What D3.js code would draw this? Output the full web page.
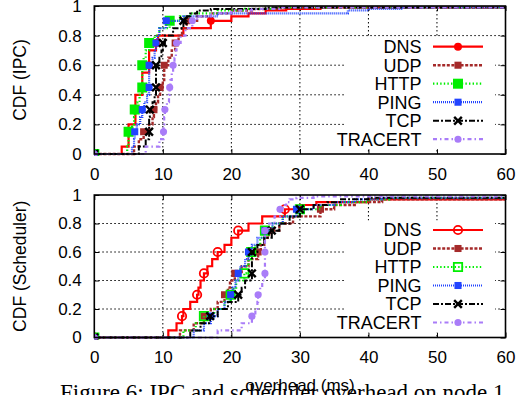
<!DOCTYPE html>
<html>
<head>
<meta charset="utf-8">
<script src="https://cdnjs.cloudflare.com/ajax/libs/d3/7.8.5/d3.min.js"></script>
<style>
  body { margin: 0; background: #fff; }
  text { font-family: "Liberation Sans", Arial, Helvetica, sans-serif; }
</style>
</head>
<body>
<div id="chart"></div>
<script>
// cdf level reached at each sample value (shared by all series)
var cdfLevels = [0, 0.05, 0.10, 0.15, 0.20, 0.25, 0.30, 0.35, 0.40, 0.45, 0.50, 0.55, 0.60,
  0.65, 0.70, 0.75, 0.80, 0.85, 0.90, 0.93, 0.95, 0.97, 0.98, 0.99, 1.0];
var markerLevels = [0, 0.15, 0.30, 0.45, 0.60, 0.75, 0.90];

var seriesNames = ["DNS", "UDP", "HTTP", "PING", "TCP", "TRACERT"];

// IPC overhead (ms)
var ipcDns     = [0, 4, 5, 5, 5, 6, 6, 6, 6, 7, 7, 7, 8, 8, 8, 9, 9.3, 13, 17, 20, 22.5, 25, 28, 33, 70];
var ipcUdp     = [0, 5.8, 6.5, 7.2, 8, 8.5, 8.7, 9, 9.3, 9.6, 10, 10.2, 10.2, 10.8, 11.3, 11.8, 12.3, 12.8, 13.5, 15, 17, 20, 23, 27, 70];
var ipcHttp    = [0, 4.8, 5, 5, 5.5, 5.8, 5.9, 6.3, 6.6, 7, 7, 7, 7, 7.2, 7.5, 8, 8.8, 9.5, 11, 12.5, 14, 18, 22, 26, 70];
var ipcPing    = [0, 5.5, 5.8, 5.9, 6.2, 6.7, 7, 7.3, 7.7, 8, 8, 8, 8, 8.5, 8.8, 9, 9.2, 9.5, 10.5, 13, 18, 37, 40, 45, 70];
var ipcTcp     = [0, 6.5, 7.5, 8, 8, 8, 8.1, 8.5, 8.8, 9, 9, 9, 9, 9.5, 9.8, 10, 10.3, 11.5, 13, 13.5, 14, 15, 17, 25, 70];
var ipcTracert = [0, 7.5, 9.5, 10.1, 10.1, 10.2, 10.3, 10.6, 10.9, 11, 11.1, 11.3, 11.5, 11.7, 11.9, 12, 12.6, 13.3, 14.3, 15, 17, 20, 23, 27, 70];

// scheduler overhead (ms)
var schedDns     = [0, 10.8, 12, 12.8, 13, 14, 15, 15.2, 15.5, 16, 16.5, 17.2, 18, 19, 20, 21, 22.5, 24.5, 27.8, 30, 32.4, 40, 66, 67, 70];
var schedUdp     = [0, 12.5, 14.5, 16, 17, 18, 19, 19.5, 19.8, 20.5, 21.5, 22.5, 23.9, 24.3, 24.8, 25.5, 27, 29, 33, 35, 38, 42, 65, 67, 70];
var schedHttp    = [0, 13, 14.8, 16, 17.5, 19, 19.9, 20.3, 20.7, 21.9, 22.2, 22.5, 22.9, 23.5, 24.2, 24.9, 26, 27.5, 30, 33, 36, 40, 43, 65, 70];
var schedPing    = [0, 14.5, 16, 17, 18, 19, 19.9, 20.2, 20.6, 21, 21.3, 22, 22.5, 23, 23.8, 24.9, 26, 27.5, 29.5, 32, 35, 38, 42, 65, 70];
var schedTcp     = [0, 14, 15.5, 16.9, 18, 19.5, 21, 21.5, 22, 23, 23, 23, 23, 23.8, 24.8, 25.9, 27, 28.5, 30, 32, 34, 36, 40, 65, 70];
var schedTracert = [0, 18, 21.5, 23, 23.5, 23.8, 23.9, 24.2, 24.5, 24.9, 24.9, 24.9, 24.9, 24.9, 24.9, 24.9, 25.5, 26.3, 27.1, 27.5, 28, 28.5, 29.5, 32, 70];

var xTicks = [0, 10, 20, 30, 40, 50, 60];
var yTicks = [0, 0.2, 0.4, 0.6, 0.8, 1];
var yTickLabels = ["0", "0.2", "0.4", "0.6", "0.8", "1"];

var W = 517, H = 395;
var left = 94.3, right = 505.5;

// line / marker styles per series
var styles = [
  { color: "#ff0000", dash: null, width: 2.2, sym: d3.symbolCircle, size: 50, openSize: 55 },
  { color: "#a52a2a", dash: "3,1.6", width: 2.4, sym: d3.symbolSquare, size: 50 },
  { color: "#00ee00", dash: "1.4,2.2", width: 2.2, sym: d3.symbolSquare, size: 100, openSize: 70 },
  { color: "#2244ff", dash: "1,1", width: 2.2, sym: d3.symbolSquare, size: 50 },
  { color: "#000000", dash: "6,2,2,2", width: 2, sym: d3.symbolX, size: 40, stroke: true },
  { color: "#a97cf8", dash: "4,3,1.5,3", width: 2.2, sym: d3.symbolCircle, size: 40 }
];

var panels = [
  { top: 6, bottom: 154, title: "CDF (IPC)", legendY: 46.7, open: [],
    data: [ipcDns, ipcUdp, ipcHttp, ipcPing, ipcTcp, ipcTracert] },
  { top: 195, bottom: 337.5, title: "CDF (Scheduler)", legendY: 230, open: [0, 2],
    data: [schedDns, schedUdp, schedHttp, schedPing, schedTcp, schedTracert] }
];

var svg = d3.select("#chart").append("svg")
  .attr("width", W)
  .attr("height", H);

svg.append("rect").attr("width", W).attr("height", H).attr("fill", "#fff");

var x = d3.scaleLinear().domain([0, 60]).range([left, right]);

function drawMarker(g, i, px, py, open) {
  var s = styles[i];
  var sym = d3.symbol().type(s.sym).size(open ? s.openSize : s.size);
  var m = g.append("path")
    .attr("d", sym())
    .attr("transform", "translate(" + px + "," + py + ")");
  if (s.stroke) {
    m.attr("fill", "none").attr("stroke", s.color).attr("stroke-width", 2.4);
  } else if (open) {
    m.attr("fill", "none").attr("stroke", s.color).attr("stroke-width", 1.8);
  } else {
    m.attr("fill", s.color);
  }
}

panels.forEach(function (p, pi) {
  var y = d3.scaleLinear().domain([0, 1]).range([p.bottom, p.top]);
  var g = svg.append("g");

  // grid
  g.selectAll(".gx").data(xTicks.slice(1, -1)).enter().append("line")
    .attr("x1", function (d) { return x(d); }).attr("x2", function (d) { return x(d); })
    .attr("y1", p.top).attr("y2", p.bottom)
    .attr("stroke", "#000").attr("stroke-width", 1).attr("stroke-dasharray", "1.5,2.5");
  g.selectAll(".gy").data(yTicks.slice(1, -1)).enter().append("line")
    .attr("x1", left).attr("x2", right)
    .attr("y1", function (d) { return y(d); }).attr("y2", function (d) { return y(d); })
    .attr("stroke", "#000").attr("stroke-width", 1).attr("stroke-dasharray", "1.5,2.5");

  // axes (ticks inward)
  var ax = g.append("g").attr("transform", "translate(0," + p.bottom + ")")
    .call(d3.axisBottom(x).tickValues(xTicks).tickSize(-5).tickPadding(13.5).tickFormat(d3.format("d")));
  ax.select(".domain").remove();
  ax.selectAll("text").attr("font-size", 17).attr("fill", "#000")
    .style("font-family", '"Liberation Sans", Arial, sans-serif');

  var ay = g.append("g").attr("transform", "translate(" + left + ",0)")
    .call(d3.axisLeft(y).tickValues(yTicks).tickSize(-5).tickPadding(12.5)
      .tickFormat(function (d, i) { return yTickLabels[i]; }));
  ay.select(".domain").remove();
  ay.selectAll("text").attr("font-size", 17).attr("fill", "#000")
    .style("font-family", '"Liberation Sans", Arial, sans-serif');

  var ar = g.append("g").attr("transform", "translate(" + right + ",0)")
    .call(d3.axisRight(y).tickValues(yTicks).tickSize(-5).tickFormat(""));
  ar.select(".domain").remove();
  var at = g.append("g").attr("transform", "translate(0," + p.top + ")")
    .call(d3.axisTop(x).tickValues(xTicks).tickSize(-5).tickFormat(""));
  at.select(".domain").remove();

  // y title
  g.append("text")
    .attr("transform", "translate(26," + ((p.top + p.bottom) / 2) + ") rotate(-90)")
    .attr("text-anchor", "middle")
    .attr("font-size", 17.5)
    .text(p.title);

  // clip
  svg.append("clipPath").attr("id", "clip" + pi).append("rect")
    .attr("x", left).attr("y", p.top - 2).attr("width", right - left).attr("height", p.bottom - p.top + 4);

  var lines = g.append("g").attr("clip-path", "url(#clip" + pi + ")");
  var lineGen = d3.line()
    .x(function (d) { return x(d[0]); })
    .y(function (d) { return y(d[1]); })
    .curve(d3.curveStepAfter);

  p.data.forEach(function (vals, i) {
    var s = styles[i];
    var pts = cdfLevels.map(function (c, k) { return [vals[k], c]; });
    lines.append("path")
      .datum(pts)
      .attr("fill", "none")
      .attr("stroke", s.color)
      .attr("stroke-width", s.width)
      .attr("stroke-dasharray", s.dash)
      .attr("d", lineGen);
    var open = p.open.indexOf(i) >= 0;
    pts.forEach(function (d) {
      var isMark = markerLevels.some(function (m) { return Math.abs(m - d[1]) < 1e-6; });
      if (isMark && d[0] <= 60) drawMarker(lines, i, x(d[0]), y(d[1]), open);
    });
  });

  // frame
  g.append("rect")
    .attr("x", left).attr("y", p.top)
    .attr("width", right - left).attr("height", p.bottom - p.top)
    .attr("fill", "none").attr("stroke", "#000").attr("stroke-width", 1.6);

  // legend
  var rowH = 18.5;
  var lg = g.append("g");
  lg.append("rect")
    .attr("x", 345).attr("y", p.legendY - 9.5)
    .attr("width", 150).attr("height", rowH * 6 + 1)
    .attr("fill", "#fff");
  seriesNames.forEach(function (name, i) {
    var s = styles[i];
    var ry = p.legendY + i * rowH;
    lg.append("text")
      .attr("x", 421.5).attr("y", ry)
      .attr("dy", "0.36em")
      .attr("text-anchor", "end")
      .attr("font-size", 18)
      .text(name);
    lg.append("line")
      .attr("x1", 433).attr("x2", 483)
      .attr("y1", ry).attr("y2", ry)
      .attr("stroke", s.color)
      .attr("stroke-width", s.width)
      .attr("stroke-dasharray", s.dash);
    drawMarker(lg, i, 458, ry, p.open.indexOf(i) >= 0);
  });
});

// x title
svg.append("text")
  .attr("x", 300).attr("y", 391)
  .attr("text-anchor", "middle")
  .attr("font-size", 17)
  .text("overhead (ms)");

// caption (cut off by the bottom edge)
svg.append("text")
  .attr("x", 60).attr("y", 400)
  .attr("font-size", 23)
  .style("font-family", '"Liberation Serif", "Times New Roman", serif')
  .text("Figure 6: IPC and scheduler overhead on node 1.");
</script>
</body>
</html>
